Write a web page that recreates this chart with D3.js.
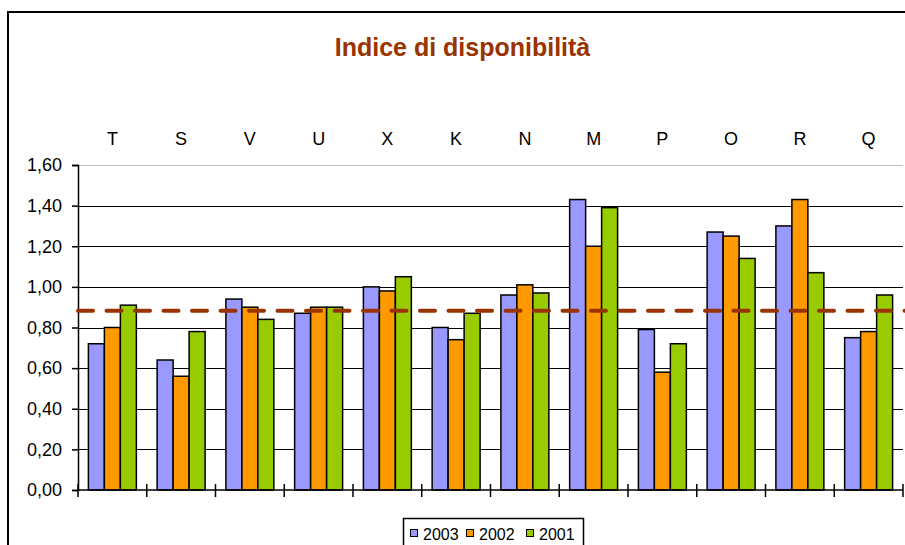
<!DOCTYPE html>
<html>
<head>
<meta charset="utf-8">
<script src="https://cdn.jsdelivr.net/npm/d3@7"></script>
<style>
  html, body { margin: 0; padding: 0; background: #fff; }
  svg { display: block; font-family: Arial, "Liberation Sans", sans-serif; }
</style>
</head>
<body>
<svg id="chart" width="905" height="545"></svg>
<script>
const categories = ["T", "S", "V", "U", "X", "K", "N", "M", "P", "O", "R", "Q"];
const seriesNames = ["2003", "2002", "2001"];
const values2003 = [0.72, 0.64, 0.94, 0.87, 1.00, 0.80, 0.96, 1.43, 0.79, 1.27, 1.30, 0.75];
const values2002 = [0.80, 0.56, 0.90, 0.90, 0.98, 0.74, 1.01, 1.20, 0.58, 1.25, 1.43, 0.78];
const values2001 = [0.91, 0.78, 0.84, 0.90, 1.05, 0.87, 0.97, 1.39, 0.72, 1.14, 1.07, 0.96];
const yTicks = [0, 0.2, 0.4, 0.6, 0.8, 1.0, 1.2, 1.4, 1.6];
const averageValue = 0.883;
const titleText = "Indice di disponibilità";

const seriesValues = [values2003, values2002, values2001];
const colors = ["#9999FF", "#FF9900", "#99CC00"];

const svg = d3.select("#chart");

// outer frame
svg.append("rect").attr("x", 8).attr("y", 12).attr("width", 1000).attr("height", 600)
  .attr("fill", "none").attr("stroke", "#000").attr("stroke-width", 2);

// title
svg.append("text").attr("x", 462.5).attr("y", 55.5).attr("text-anchor", "middle")
  .attr("font-size", 25).attr("font-weight", "bold").attr("fill", "#993300")
  .text(titleText);

const pLeft = 78, pRight = 903, pTop = 165, pBottom = 490;
const x = d3.scaleBand().domain(categories).range([pLeft, pRight]).paddingInner(0).paddingOuter(0);
const xs = d3.scaleBand().domain(seriesNames).range([0, x.bandwidth()]).paddingInner(0).paddingOuter(0.65);
const y = d3.scaleLinear().domain([0, 1.6]).range([pBottom, pTop]);

// gridlines
svg.append("g").selectAll("line").data(yTicks.filter(d => d > 0)).join("line")
  .attr("x1", pLeft).attr("x2", pRight)
  .attr("y1", d => Math.round(y(d)) + 0.5).attr("y2", d => Math.round(y(d)) + 0.5)
  .attr("stroke", d => d === 1.6 ? "#c0c0c0" : "#000").attr("stroke-width", 1);

// bars
const groups = svg.append("g").selectAll("g").data(categories).join("g")
  .attr("transform", d => `translate(${x(d)},0)`);
groups.selectAll("rect").data((c, i) => seriesNames.map((s, j) => ({ s, j, v: seriesValues[j][i] })))
  .join("rect")
  .attr("x", d => xs(d.s)).attr("width", xs.bandwidth())
  .attr("y", d => y(d.v)).attr("height", d => pBottom - y(d.v))
  .attr("fill", d => colors[d.j]).attr("stroke", "#000").attr("stroke-width", 1.5);

// y axis
const yAxis = d3.axisLeft(y).tickValues(yTicks).tickSize(6).tickPadding(10)
  .tickFormat(d => d3.format(".2f")(d).replace(".", ","));
const gy = svg.append("g").attr("transform", `translate(${pLeft},0)`).call(yAxis);
gy.select(".domain").attr("stroke", "#000").attr("stroke-width", 1.5);
gy.selectAll(".tick line").attr("stroke", "#000").attr("stroke-width", 1.5);
gy.selectAll("text").attr("font-size", 18).attr("fill", "#000").attr("font-family", "Arial, 'Liberation Sans', sans-serif");

// x axis line and crossing ticks
svg.append("line").attr("x1", pLeft).attr("x2", pRight).attr("y1", pBottom).attr("y2", pBottom)
  .attr("stroke", "#000").attr("stroke-width", 1.5);
const tickPositions = categories.map(c => x(c)).concat([x(categories[categories.length - 1]) + x.bandwidth()]);
svg.append("g").selectAll("line").data(tickPositions).join("line")
  .attr("x1", d => d).attr("x2", d => d).attr("y1", pBottom - 6).attr("y2", pBottom + 7)
  .attr("stroke", "#000").attr("stroke-width", 1.5);

// category labels on top
svg.append("g").selectAll("text").data(categories).join("text")
  .attr("x", d => x(d) + x.bandwidth() / 2).attr("y", 144.5)
  .attr("text-anchor", "middle").attr("font-size", 18).attr("fill", "#000")
  .text(d => d);

// average dashed line
svg.append("line").attr("x1", 78).attr("x2", 905)
  .attr("y1", y(averageValue)).attr("y2", y(averageValue))
  .attr("stroke", "#993300").attr("stroke-width", 4)
  .attr("stroke-dasharray", "15,13.5").attr("stroke-linecap", "round");

// legend
const lg = svg.append("g");
lg.append("rect").attr("x", 403.5).attr("y", 518.5).attr("width", 180).attr("height", 40)
  .attr("fill", "#fff").attr("stroke", "#000").attr("stroke-width", 1.5);
const legendX = [410, 466, 526];
seriesNames.forEach((s, i) => {
  lg.append("rect").attr("x", legendX[i] + 0.5).attr("y", 529.5).attr("width", 7).attr("height", 7)
    .attr("fill", colors[i]).attr("stroke", "#000").attr("stroke-width", 1);
  lg.append("text").attr("x", legendX[i] + 13).attr("y", 539.5).attr("font-size", 16).attr("fill", "#000").text(s);
});
</script>
</body>
</html>
